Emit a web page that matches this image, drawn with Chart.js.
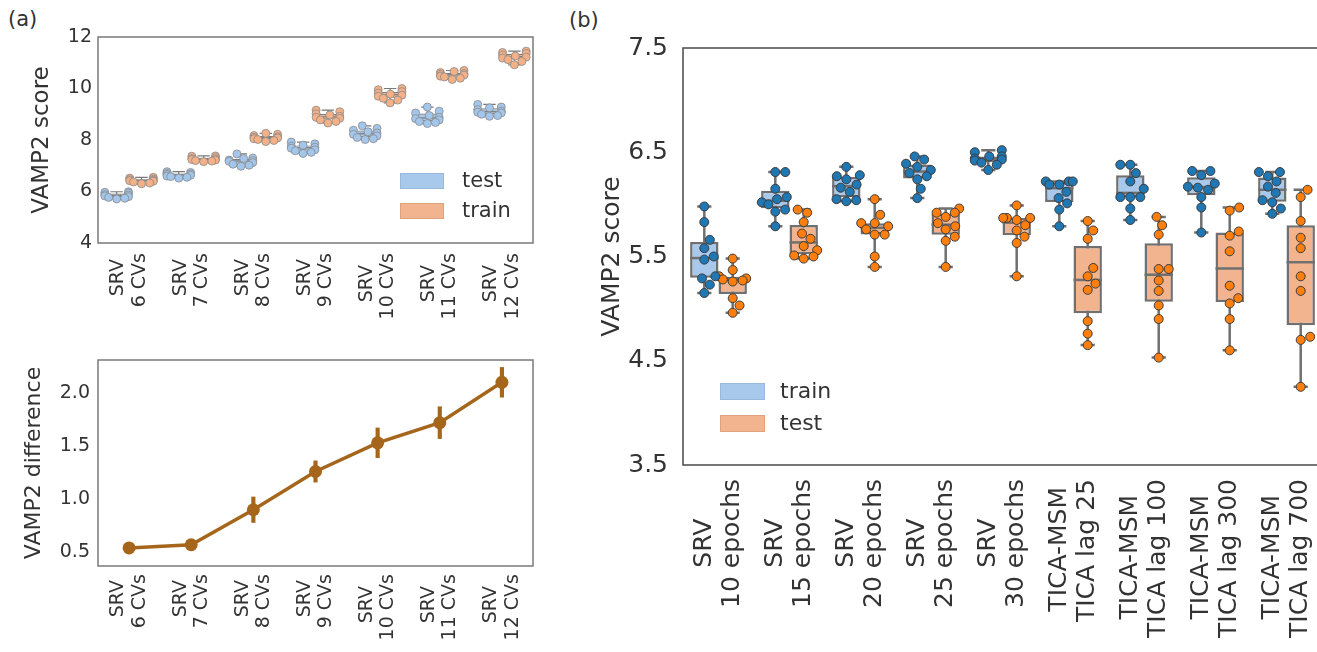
<!DOCTYPE html>
<html>
<head>
<meta charset="utf-8">
<script src="https://cdn.jsdelivr.net/npm/chart.js@4.4.0/dist/chart.umd.min.js"></script>
<style>
    html, body { margin: 0; padding: 0; background: #fff; width: 1317px; height: 652px; overflow: hidden; }
    canvas { position: absolute; }
    .tag, .lbl { position: absolute; font-family: 'DejaVu Sans'; color: #333; line-height: 1; white-space: nowrap; }
    .sw { position: absolute; box-sizing: border-box; }
</style>
</head>
<body>
<div class="tag" style="left:8px; top:9px; font-size:21px;">(a)</div>
<div class="tag" style="left:569px; top:10px; font-size:21px;">(b)</div>

<canvas id="scoresA" width="545" height="350" style="left:0; top:0;"></canvas>
<canvas id="diffA" width="545" height="302" style="left:0; top:350px;"></canvas>
<canvas id="scoresB" width="780" height="652" style="left:560px; top:0;"></canvas>

<!-- legend (a) -->
<div class="sw" style="left:400px; top:173px; width:44px; height:16px; background:#a9c9ec; border:1px solid #98b8dc;"></div>
<div class="lbl" style="left:462px; top:170px; font-size:21px;">test</div>
<div class="sw" style="left:400px; top:203px; width:44px; height:16px; background:#f2b48e; border:1px solid #e0a27c;"></div>
<div class="lbl" style="left:462px; top:200px; font-size:21px;">train</div>

<!-- legend (b) -->
<div class="sw" style="left:720px; top:383px; width:45px; height:17px; background:#a9c9ec; border:1px solid #98b8dc;"></div>
<div class="lbl" style="left:780px; top:380px; font-size:22px;">train</div>
<div class="sw" style="left:720px; top:415px; width:45px; height:17px; background:#f2b48e; border:1px solid #e0a27c;"></div>
<div class="lbl" style="left:780px; top:412px; font-size:22px;">test</div>

<script>
// ---- panel (a): SRV with different number of CVs ----
const cvLabels = [['SRV', '6 CVs'], ['SRV', '7 CVs'], ['SRV', '8 CVs'], ['SRV', '9 CVs'],
                  ['SRV', '10 CVs'], ['SRV', '11 CVs'], ['SRV', '12 CVs']];
const cvTest = [
    [5.99, 5.97, 5.94, 5.88, 5.86, 5.83, 5.80, 5.77, 5.74, 5.71],
    [6.77, 6.74, 6.70, 6.68, 6.66, 6.63, 6.60, 6.58, 6.55, 6.52],
    [7.46, 7.30, 7.28, 7.22, 7.20, 7.17, 7.12, 7.06, 7.02, 6.98],
    [7.92, 7.85, 7.80, 7.76, 7.72, 7.68, 7.62, 7.58, 7.52, 7.48],
    [8.55, 8.45, 8.38, 8.32, 8.27, 8.22, 8.16, 8.10, 8.05, 8.02],
    [9.28, 9.12, 9.05, 8.95, 8.88, 8.83, 8.78, 8.72, 8.68, 8.64],
    [9.38, 9.28, 9.25, 9.18, 9.12, 9.08, 9.05, 9.00, 8.95, 8.92]
];
const cvTrain = [
    [6.55, 6.52, 6.48, 6.46, 6.44, 6.42, 6.40, 6.37, 6.33, 6.30],
    [7.38, 7.37, 7.32, 7.28, 7.25, 7.24, 7.22, 7.20, 7.18, 7.16],
    [8.26, 8.22, 8.17, 8.12, 8.10, 8.08, 8.05, 8.02, 7.98, 7.94],
    [9.16, 9.10, 9.02, 8.97, 8.92, 8.88, 8.84, 8.78, 8.72, 8.66],
    [10.00, 9.95, 9.88, 9.82, 9.78, 9.74, 9.70, 9.62, 9.55, 9.44],
    [10.70, 10.66, 10.62, 10.58, 10.55, 10.52, 10.48, 10.45, 10.40, 10.35],
    [11.45, 11.40, 11.36, 11.30, 11.26, 11.22, 11.18, 11.12, 11.05, 10.92]
];
const cvScoreTicks = [4, 6, 8, 10, 12];

const cvDiff = [0.54, 0.57, 0.90, 1.26, 1.53, 1.72, 2.10];
const cvDiffErr = [0.05, 0.05, 0.12, 0.10, 0.14, 0.15, 0.14];
const cvDiffTicks = [0.5, 1.0, 1.5, 2.0];

// ---- panel (b): SRV epochs vs TICA-MSM ----
const runLabels = [['SRV', '10 epochs'], ['SRV', '15 epochs'], ['SRV', '20 epochs'], ['SRV', '25 epochs'],
                   ['SRV', '30 epochs'], ['TICA-MSM', 'TICA lag 25'], ['TICA-MSM', 'TICA lag 100'],
                   ['TICA-MSM', 'TICA lag 300'], ['TICA-MSM', 'TICA lag 700']];
const runTrain = [
    [5.98, 5.83, 5.66, 5.58, 5.50, 5.47, 5.31, 5.29, 5.23, 5.15],
    [6.31, 6.31, 6.15, 6.07, 6.05, 6.02, 6.00, 5.95, 5.93, 5.79],
    [6.36, 6.28, 6.27, 6.24, 6.19, 6.16, 6.12, 6.05, 6.04, 6.03],
    [6.46, 6.43, 6.39, 6.36, 6.33, 6.30, 6.27, 6.24, 6.15, 6.06],
    [6.52, 6.50, 6.46, 6.46, 6.44, 6.43, 6.42, 6.40, 6.38, 6.33],
    [6.22, 6.22, 6.22, 6.19, 6.19, 6.12, 6.06, 6.01, 5.95, 5.79],
    [6.38, 6.38, 6.30, 6.22, 6.15, 6.07, 6.07, 6.07, 5.96, 5.85],
    [6.32, 6.32, 6.28, 6.20, 6.17, 6.16, 6.14, 6.07, 5.97, 5.73],
    [6.31, 6.31, 6.27, 6.22, 6.17, 6.11, 6.04, 6.02, 5.96, 5.91]
];
const runTest = [
    [5.48, 5.37, 5.31, 5.29, 5.28, 5.27, 5.26, 5.10, 5.03, 4.96],
    [5.95, 5.92, 5.83, 5.72, 5.67, 5.60, 5.56, 5.51, 5.50, 5.48],
    [6.05, 5.90, 5.82, 5.82, 5.79, 5.76, 5.71, 5.71, 5.50, 5.40],
    [5.96, 5.92, 5.92, 5.88, 5.82, 5.79, 5.76, 5.69, 5.65, 5.40],
    [5.99, 5.87, 5.87, 5.87, 5.85, 5.80, 5.75, 5.69, 5.63, 5.31],
    [5.84, 5.75, 5.67, 5.39, 5.31, 5.24, 5.18, 4.88, 4.76, 4.65],
    [5.88, 5.80, 5.71, 5.38, 5.38, 5.27, 5.17, 5.03, 4.90, 4.53],
    [5.97, 5.94, 5.74, 5.70, 5.55, 5.22, 5.10, 5.05, 4.90, 4.60],
    [6.14, 6.07, 5.84, 5.68, 5.58, 5.31, 5.17, 4.73, 4.70, 4.25]
];
const runTicks = [3.5, 4.5, 5.5, 6.5, 7.5];

Chart.defaults.font.family = 'DejaVu Sans';
Chart.defaults.color = '#333';
Chart.defaults.animation = false;

// stats the way matplotlib draws them (linear quantiles, whiskers to the extremes)
function quantile(sorted, q) {
    const pos = (sorted.length - 1) * q;
    const lo = Math.floor(pos), hi = Math.ceil(pos);
    return sorted[lo] + (sorted[hi] - sorted[lo]) * (pos - lo);
}

function boxStats(values) {
    const s = [...values].sort((a, b) => a - b);
    return { lo: s[0], q1: quantile(s, 0.25), med: quantile(s, 0.5), q3: quantile(s, 0.75), hi: s[s.length - 1] };
}

// pad the shorter line so both lines of a rotated label are centred on each other
function centerLines(lines, size) {
    const ctx = document.createElement('canvas').getContext('2d');
    ctx.font = size + 'px "DejaVu Sans"';
    const widths = lines.map(l => ctx.measureText(l).width);
    const max = Math.max(...widths);
    const sp = ctx.measureText(' ').width;
    return lines.map((l, i) => l + ' '.repeat(Math.round((max - widths[i]) / 2 / sp)));
}

// keep the plot box where it is, whatever the rotated labels would like
function fixHeight(h) {
    return s => { s.height = h; s.paddingLeft = 0; s.paddingRight = 0; };
}
function fixWidth(w) {
    return s => { s.width = w; s.paddingTop = 0; s.paddingBottom = 0; };
}

const framePlugin = {
    id: 'frame',
    beforeDatasetsDraw(chart, args, opts) {
        const { ctx, chartArea: a } = chart;
        ctx.save();
        ctx.strokeStyle = opts.color;
        ctx.lineWidth = opts.width;
        ctx.strokeRect(a.left, a.top, a.right - a.left, a.bottom - a.top);
        ctx.restore();
    }
};

// whiskers + caps under each box, median line on top of it
const boxPlugin = {
    id: 'boxes',
    beforeDatasetDraw(chart, args) {
        const ds = chart.data.datasets[args.index];
        if (!ds.stats) return;
        const y = chart.scales.y, ctx = chart.ctx;
        ctx.save();
        ctx.strokeStyle = ds.borderColor;
        ctx.lineWidth = ds.borderWidth;
        args.meta.data.forEach((bar, i) => {
            const s = ds.stats[i];
            const cap = bar.width / 4;
            const yLo = y.getPixelForValue(s.lo), yHi = y.getPixelForValue(s.hi);
            ctx.beginPath();
            ctx.moveTo(bar.x, yLo); ctx.lineTo(bar.x, yHi);
            ctx.moveTo(bar.x - cap, yLo); ctx.lineTo(bar.x + cap, yLo);
            ctx.moveTo(bar.x - cap, yHi); ctx.lineTo(bar.x + cap, yHi);
            ctx.stroke();
        });
        ctx.restore();
    },
    afterDatasetDraw(chart, args) {
        const ds = chart.data.datasets[args.index];
        if (!ds.stats) return;
        const y = chart.scales.y, ctx = chart.ctx;
        ctx.save();
        ctx.strokeStyle = ds.borderColor;
        ctx.lineWidth = ds.borderWidth;
        args.meta.data.forEach((bar, i) => {
            const ym = y.getPixelForValue(ds.stats[i].med);
            ctx.beginPath();
            ctx.moveTo(bar.x - bar.width / 2, ym);
            ctx.lineTo(bar.x + bar.width / 2, ym);
            ctx.stroke();
        });
        ctx.restore();
    }
};

// beeswarm offsets, worked out in pixels once the scales are laid out
const swarmPlugin = {
    id: 'swarm',
    beforeDatasetsUpdate(chart) {
        const xs = chart.scales.x, ys = chart.scales.y;
        const unit = xs.getPixelForValue(1) - xs.getPixelForValue(0);
        chart.data.datasets.forEach(ds => {
            if (!ds.swarm) return;
            const { dodge, size, half } = ds.swarm;
            const byCat = {};
            ds.data.forEach(p => (byCat[p.c] = byCat[p.c] || []).push(p));
            Object.values(byCat).forEach(pts => {
                const placed = [];
                pts.slice().sort((a, b) => a.y - b.y).forEach(p => {
                    const py = ys.getPixelForValue(p.y);
                    const cands = [0];
                    placed.forEach(q => {
                        const dy = Math.abs(q.py - py);
                        if (dy < size) {
                            const dx = Math.sqrt(size * size - dy * dy);
                            cands.push(q.px + dx, q.px - dx);
                        }
                    });
                    cands.sort((a, b) => Math.abs(a) - Math.abs(b));
                    const ok = cands.find(cx => placed.every(q => (q.px - cx) ** 2 + (q.py - py) ** 2 >= size * size - 0.01));
                    let px = ok === undefined ? 0 : ok;
                    px = Math.max(-half * unit, Math.min(half * unit, px));
                    placed.push({ px, py });
                    p.x = p.c + dodge + px / unit;
                });
            });
        });
    }
};

function swarmPoints(groups) {
    const pts = [];
    groups.forEach((vals, c) => vals.forEach(v => pts.push({ x: c, y: v, c })));
    return pts;
}

function boxSwarmChart(id, o) {
    const datasets = [];
    o.hues.forEach((h, k) => {
        datasets.push({
            type: 'line',
            showLine: false,
            parsing: false,
            data: swarmPoints(h.values),
            swarm: { dodge: (k - 0.5) * 0.4, size: o.pointSize, half: 0.19 },
            pointRadius: o.radius,
            pointHoverRadius: o.radius,
            pointBackgroundColor: h.point,
            pointBorderColor: h.edge,
            pointBorderWidth: o.pointBorder,
            order: 0
        });
    });
    o.hues.forEach(h => {
        const stats = h.values.map(boxStats);
        datasets.push({
            type: 'bar',
            data: stats.map(s => [s.q1, s.q3]),
            stats,
            backgroundColor: h.box,
            borderColor: o.lineColor,
            borderWidth: o.lineWidth,
            borderSkipped: false,
            categoryPercentage: 0.8,
            barPercentage: 1,
            order: 1
        });
    });

    const lh = o.labelSize * 1.12;
    return new Chart(document.getElementById(id), {
        type: 'bar',
        data: { labels: o.labels.map(l => centerLines(l, o.labelSize)), datasets },
        options: {
            responsive: false,
            layout: { padding: o.padding },
            plugins: {
                legend: { display: false },
                tooltip: { enabled: false },
                frame: { color: o.frameColor, width: 1.5 }
            },
            scales: {
                x: {
                    type: 'category',
                    grid: { display: false, drawTicks: false },
                    border: { display: false },
                    ticks: {
                        minRotation: 90, maxRotation: 90, autoSkip: false,
                        padding: o.labelPad, labelOffset: -lh / 2,
                        font: { size: o.labelSize, lineHeight: 1.12 }
                    },
                    afterFit: fixHeight(o.xHeight)
                },
                y: {
                    type: 'linear',
                    min: o.yTicks[0],
                    max: o.yTicks[o.yTicks.length - 1],
                    stacked: false,
                    grid: { display: false, drawTicks: false },
                    border: { display: false },
                    afterBuildTicks: s => { s.ticks = o.yTicks.map(v => ({ value: v })); },
                    ticks: { padding: o.tickPad, font: { size: o.tickSize }, callback: o.tickFmt },
                    title: { display: true, text: 'VAMP2 score', font: { size: o.titleSize }, padding: { top: o.titlePad, bottom: 0 } },
                    afterFit: fixWidth(o.yWidth)
                }
            }
        },
        plugins: [framePlugin, boxPlugin, swarmPlugin]
    });
}

// (a) top
boxSwarmChart('scoresA', {
    labels: cvLabels,
    hues: [
        { values: cvTest, box: '#a9c9ec', point: '#a3c6ec', edge: '#8a8a8a' },
        { values: cvTrain, box: '#f2b48e', point: '#f4b086', edge: '#8a8a8a' }
    ],
    yTicks: cvScoreTicks,
    tickFmt: v => String(v),
    pointSize: 8.2, radius: 4, pointBorder: 0.8,
    lineColor: '#7a7a7a', lineWidth: 1.2, frameColor: '#7a7a7a',
    padding: { top: 37, right: 12, left: 0, bottom: 0 },
    xHeight: 107, yWidth: 98,
    labelSize: 19, labelPad: 10,
    tickSize: 19, tickPad: 6,
    titleSize: 23, titlePad: 28
});

// (b)
boxSwarmChart('scoresB', {
    labels: runLabels,
    hues: [
        { values: runTrain, box: '#a9c9ec', point: '#1f77b4', edge: '#3c3c3c' },
        { values: runTest, box: '#f2b48e', point: '#ff7f0e', edge: '#3c3c3c' }
    ],
    yTicks: runTicks,
    tickFmt: v => v.toFixed(1),
    pointSize: 10, radius: 4.5, pointBorder: 1,
    lineColor: '#707070', lineWidth: 2.5, frameColor: '#4a4a4a',
    padding: { top: 48, right: 18, left: 0, bottom: 0 },
    xHeight: 187, yWidth: 123,
    labelSize: 25, labelPad: 14,
    tickSize: 25, tickPad: 15,
    titleSize: 25, titlePad: 37
});

// (a) bottom: train - test difference with error bars
new Chart(document.getElementById('diffA'), {
    type: 'line',
    data: {
        labels: cvLabels.map(l => centerLines(l, 19)),
        datasets: [
            {
                data: cvDiff,
                borderColor: '#a5661c',
                borderWidth: 3.5,
                pointRadius: 6.5,
                pointBackgroundColor: '#a5661c',
                pointBorderWidth: 0,
                order: 0
            },
            {
                type: 'bar',
                data: cvDiff.map((v, i) => [v - cvDiffErr[i], v + cvDiffErr[i]]),
                backgroundColor: '#a5661c',
                barThickness: 3.5,
                order: 1
            }
        ]
    },
    options: {
        responsive: false,
        layout: { padding: { top: 10, right: 12, left: 0, bottom: 0 } },
        plugins: {
            legend: { display: false },
            tooltip: { enabled: false },
            frame: { color: '#7a7a7a', width: 1.5 }
        },
        scales: {
            x: {
                type: 'category',
                offset: true,
                grid: { display: false, drawTicks: false },
                border: { display: false },
                ticks: {
                    minRotation: 90, maxRotation: 90, autoSkip: false,
                    padding: 8, labelOffset: -19 * 1.12 / 2,
                    font: { size: 19, lineHeight: 1.12 }
                },
                afterFit: fixHeight(86)
            },
            y: {
                type: 'linear',
                min: 0.37,
                max: 2.31,
                grid: { display: false, drawTicks: false },
                border: { display: false },
                afterBuildTicks: s => { s.ticks = cvDiffTicks.map(v => ({ value: v })); },
                ticks: { padding: 8, font: { size: 19 }, callback: v => v.toFixed(1) },
                title: { display: true, text: 'VAMP2 difference', font: { size: 22 }, padding: { top: 21, bottom: 0 } },
                afterFit: fixWidth(98)
            }
        }
    },
    plugins: [framePlugin]
});
</script>
</body>
</html>
